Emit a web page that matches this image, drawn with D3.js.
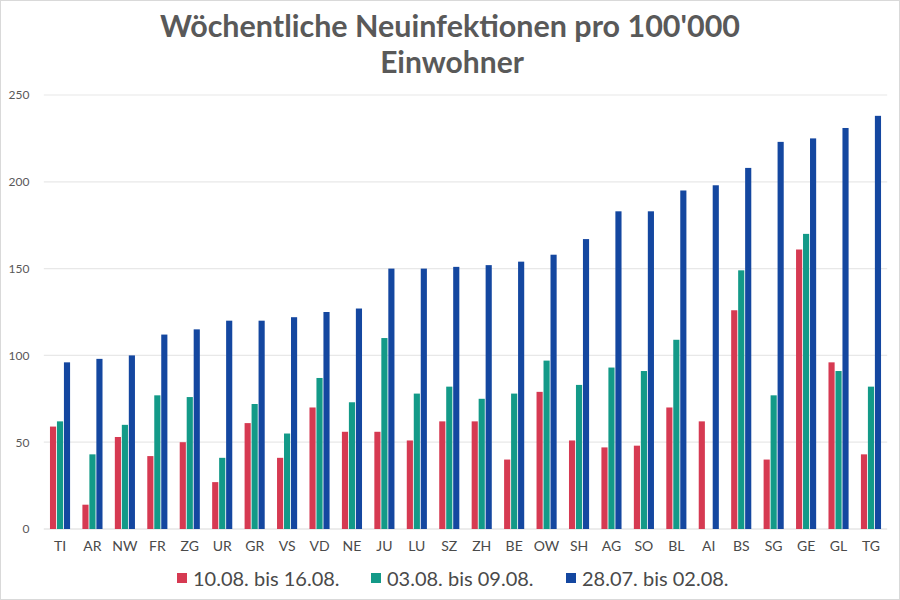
<!DOCTYPE html>
<html><head><meta charset="utf-8">
<script src="https://cdn.jsdelivr.net/npm/d3@7"></script>
<style>body{margin:0;background:#fff;}svg{display:block;font-family:Lato,"Open Sans",sans-serif;}</style>
</head><body><svg id="c" width="900" height="600"></svg>
<script>
const categories = ["TI","AR","NW","FR","ZG","UR","GR","VS","VD","NE","JU","LU","SZ","ZH","BE","OW","SH","AG","SO","BL","AI","BS","SG","GE","GL","TG"];
const seriesNames = ["10.08. bis 16.08.","03.08. bis 09.08.","28.07. bis 02.08."];
const week3 = [59,14,53,42,50,27,61,41,70,56,56,51,62,62,40,79,51,47,48,70,62,126,40,161,96,43];
const week2 = [62,43,60,77,76,41,72,55,87,73,110,78,82,75,78,97,83,93,91,109,0,149,77,170,91,82];
const week1 = [96,98,100,112,115,120,120,122,125,127,150,150,151,152,154,158,167,183,183,195,198,208,223,225,231,238];
const yTicks = [0,50,100,150,200,250];
const colors = ["#d63a52","#139a88","#1447a0"];

(function(){
const svg = d3.select("#c");
svg.append("rect").attr("x",0.5).attr("y",0.5).attr("width",899).attr("height",599).attr("fill","#fff").attr("stroke","#d9d9d9");

const pl = 43.8, pr = 887.2, pt = 95, pb = 529;
const x = d3.scaleBand().domain(categories).range([pl,pr]).paddingInner(0.38).paddingOuter(0.19);
const sub = d3.scaleBand().domain([0,1,2]).range([0,x.bandwidth()]).paddingInner(0.12);
const y = d3.scaleLinear().domain([0,250]).range([pb,pt]);

const g = svg.append("g");
g.selectAll("line.grid").data(yTicks).join("line")
  .attr("x1",pl).attr("x2",pr).attr("y1",d=>y(d)).attr("y2",d=>y(d))
  .attr("stroke",d=>d===0?"#d9d9d9":"#e8e8e8").attr("stroke-width",1.2);

const yAxis = d3.axisLeft(y).tickValues(yTicks).tickSize(0).tickPadding(0);
svg.append("g").attr("transform","translate(29.5,0)").call(yAxis)
  .call(s=>s.select(".domain").remove())
  .call(s=>s.selectAll("text").attr("fill","#595959").attr("font-size",12).attr("font-family","Lato, sans-serif"));

const xAxis = d3.axisBottom(x).tickSize(0).tickPadding(12);
svg.append("g").attr("transform",`translate(0,${pb})`).call(xAxis)
  .call(s=>s.select(".domain").remove())
  .call(s=>s.selectAll("text").attr("fill","#4a4a4a").attr("font-size",14).attr("font-family","Lato, sans-serif"));

const series = [week3,week2,week1];
series.forEach((vals,si)=>{
  g.selectAll(`rect.s${si}`).data(vals.map((v,i)=>({c:categories[i],v}))).join("rect")
    .attr("class",`s${si}`)
    .attr("x",d=>x(d.c)+sub(si)).attr("width",sub.bandwidth())
    .attr("y",d=>y(d.v)).attr("height",d=>pb-y(d.v))
    .attr("fill",colors[si]);
});

svg.append("text").attr("x",450).attr("y",37).attr("text-anchor","middle")
  .attr("font-size",30).attr("font-weight",700).attr("fill","#595959")
  .attr("textLength",580).attr("lengthAdjust","spacingAndGlyphs")
  .text("Wöchentliche Neuinfektionen pro 100'000");
svg.append("text").attr("x",452).attr("y",73).attr("text-anchor","middle")
  .attr("font-size",30).attr("font-weight",700).attr("fill","#595959").text("Einwohner");

const legX = [177,371,566];
const leg = svg.append("g");
seriesNames.forEach((n,i)=>{
  leg.append("rect").attr("x",legX[i]).attr("y",573).attr("width",10).attr("height",10).attr("fill",colors[i]);
  leg.append("text").attr("x",legX[i]+16).attr("y",586).attr("font-size",20).attr("fill","#4a4a4a").text(n);
});
})();
</script></body></html>
